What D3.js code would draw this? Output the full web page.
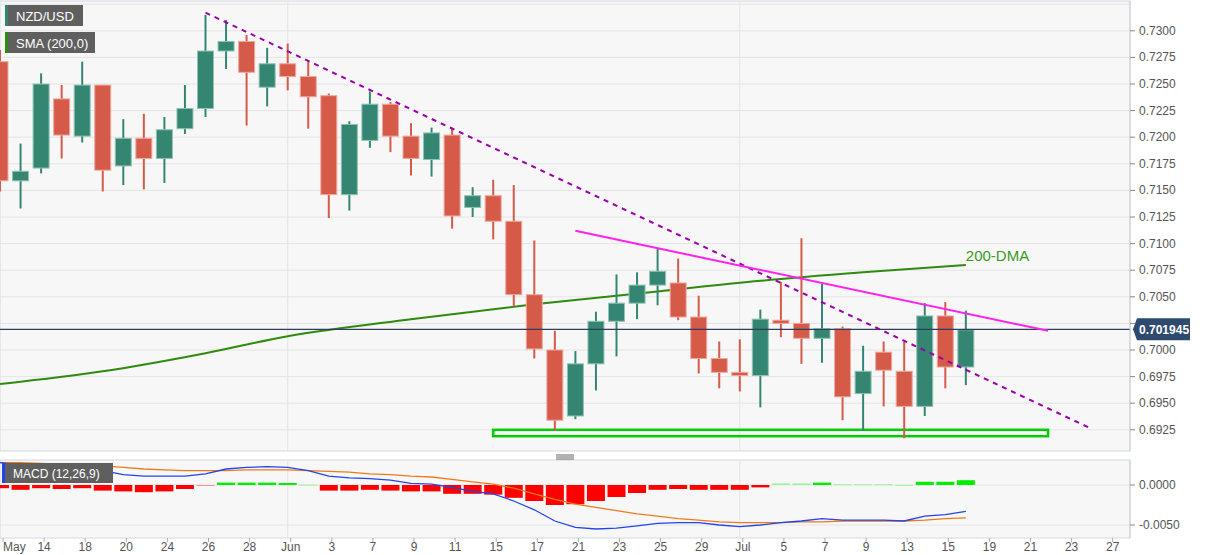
<!DOCTYPE html>
<html><head><meta charset="utf-8">
<script src="https://cdn.jsdelivr.net/npm/d3@7"></script>
<style>body{margin:0;background:#fff;font-family:"Liberation Sans",Arial,sans-serif}</style>
</head><body><svg id="c" width="1207" height="555"></svg>
<script>
const opens  =[0.7271,0.7159,0.7171,0.7236,0.7201,0.7249,0.7173,0.7199,0.7180,0.7208,0.7227,0.7281,0.7290,0.7247,0.7269,0.7257,0.7239,0.7146,0.7197,0.7231,0.7201,0.7179,0.7202,0.7134,0.7145,0.7121,0.7052,0.7000,0.6938,0.6987,0.7027,0.7044,0.7061,0.7063,0.7031,0.6992,0.6979,0.6976,0.7028,0.7025,0.7011,0.7020,0.6959,0.6998,0.6980,0.6947,0.7032,0.6984];
const highs  =[0.7282,0.7194,0.7260,0.7249,0.7271,0.7249,0.7217,0.7222,0.7219,0.7249,0.7315,0.7310,0.7296,0.7284,0.7288,0.7272,0.7241,0.7215,0.7243,0.7233,0.7213,0.7209,0.7209,0.7153,0.7160,0.7155,0.7103,0.7018,0.6999,0.7036,0.7071,0.7073,0.7095,0.7086,0.7051,0.7008,0.7010,0.7038,0.7064,0.7105,0.7062,0.7022,0.7004,0.7008,0.7008,0.7044,0.7045,0.7037];
const lows   =[0.7149,0.7133,0.7166,0.7180,0.7195,0.7149,0.7155,0.7151,0.7157,0.7203,0.7219,0.7264,0.7211,0.7229,0.7244,0.7208,0.7124,0.7131,0.7190,0.7186,0.7164,0.7163,0.7114,0.7125,0.7104,0.7041,0.6992,0.6924,0.6935,0.6962,0.6994,0.7029,0.7042,0.7028,0.6978,0.6964,0.6961,0.6946,0.7012,0.6987,0.6988,0.6934,0.6924,0.6947,0.6917,0.6938,0.6964,0.6967];
const closes =[0.7159,0.7168,0.7250,0.7202,0.7249,0.7169,0.7199,0.7180,0.7207,0.7227,0.7281,0.7290,0.7261,0.7269,0.7257,0.7238,0.7146,0.7212,0.7231,0.7201,0.7180,0.7204,0.7126,0.7145,0.7121,0.7052,0.7001,0.6934,0.6987,0.7027,0.7044,0.7061,0.7074,0.7031,0.6992,0.6979,0.6976,0.7029,0.7025,0.7011,0.7020,0.6956,0.6980,0.6981,0.6947,0.7032,0.6984,0.7019];
const smaIdx =[0,5,10,14,20,26,32,37,42,47];
const smaVal =[0.6968,0.6980,0.6997,0.7013,0.7029,0.7043,0.7055,0.7065,0.7073,0.7080];
const macdLine=[0.0028,0.0025,0.0024,0.0024,0.0023,0.0018,0.0013,0.0011,0.0011,0.0011,0.0014,0.0020,0.0022,0.0023,0.0022,0.0018,0.0011,0.0009,0.0008,0.0006,0.0002,0.0001,-0.0003,-0.0008,-0.0011,-0.0020,-0.0031,-0.0045,-0.0053,-0.0055,-0.0054,-0.0051,-0.0048,-0.0047,-0.0047,-0.0050,-0.0052,-0.0050,-0.0047,-0.0045,-0.0042,-0.0044,-0.0044,-0.0044,-0.0045,-0.0039,-0.0037,-0.0033];
const signalLine=[0.0028,0.0028,0.0027,0.0026,0.0025,0.0024,0.0022,0.0020,0.0019,0.0018,0.0018,0.0018,0.0019,0.0019,0.0019,0.0018,0.0017,0.0016,0.0014,0.0013,0.0011,0.0010,0.0007,0.0004,0.0001,-0.0004,-0.0011,-0.0018,-0.0024,-0.0028,-0.0032,-0.0036,-0.0039,-0.0042,-0.0044,-0.0046,-0.0047,-0.0047,-0.0047,-0.0046,-0.0046,-0.0045,-0.0045,-0.0045,-0.0045,-0.0044,-0.0042,-0.0041];
const hist=[-0.0004,-0.0006,-0.0004,-0.0005,-0.0004,-0.0007,-0.0008,-0.0009,-0.0008,-0.0005,-0.00005,0.0003,0.0003,0.0003,0.00025,0.00005,-0.0007,-0.0007,-0.0006,-0.0007,-0.0008,-0.0008,-0.0011,-0.0011,-0.0012,-0.0016,-0.0020,-0.0025,-0.0024,-0.0020,-0.0015,-0.0010,-0.0006,-0.0005,-0.0006,-0.0006,-0.0006,-0.0003,0.0002,0.0002,0.0003,0.0001,0.0001,0.0001,0.00002,0.0004,0.0004,0.0006];
const xLabels=["May","14","18","20","24","26","28","Jun","3","7","9","11","15","17","21","23","25","29","Jul","5","7","9","13","15","19","21","23","27"];
const yTicks=[0.6925,0.6950,0.6975,0.7000,0.7025,0.7050,0.7075,0.7100,0.7125,0.7150,0.7175,0.7200,0.7225,0.7250,0.7275,0.7300];
const macdTicks=[0,-0.005];
const lastPrice=0.701945;
const downTrend=[{i:10,v:0.7317},{i:53,v:0.6927}];
const resist=[{i:28,v:0.7112},{i:51,v:0.7018}];
const support={i0:24,i1:51,v0:0.6919,v1:0.6925};
const monthIdx=[14,36];

const svg=d3.select("#c");
const W=1130, pTop=1, pBot=451, mTop=460, mBot=538;
const x=d3.scaleLinear().domain([0,1]).range([0,20.55]);
const y=d3.scaleLinear().domain([0.7,0.73]).range([350,350-0.03*10640]);
const ym=d3.scaleLinear().domain([0,-0.005]).range([485,525]);
const grey="#555";
svg.append("rect").attr("x",0).attr("y",pTop).attr("width",W).attr("height",pBot-pTop).attr("fill","#f7f7f7").attr("stroke","#d3d8e3");
svg.append("rect").attr("x",0).attr("y",mTop).attr("width",W).attr("height",mBot-mTop).attr("fill","#f7f7f7").attr("stroke","#d3d8e3");
const defs=svg.append("defs");
defs.append("clipPath").attr("id","cm").append("rect").attr("x",0).attr("y",pTop).attr("width",W).attr("height",pBot-pTop);
defs.append("clipPath").attr("id","cd").append("rect").attr("x",0).attr("y",mTop).attr("width",W).attr("height",mBot-mTop);
const g=svg.append("g").attr("clip-path","url(#cm)");
const gm=svg.append("g").attr("clip-path","url(#cd)");
yTicks.concat([0.7325]).forEach(t=>g.append("line").attr("x1",0).attr("x2",W).attr("y1",y(t)).attr("y2",y(t)).attr("stroke","#e4e4e4"));
monthIdx.forEach(i=>{
 g.append("line").attr("x1",x(i)).attr("x2",x(i)).attr("y1",pTop).attr("y2",pBot).attr("stroke","#e4e4e4");
 gm.append("line").attr("x1",x(i)).attr("x2",x(i)).attr("y1",mTop).attr("y2",mBot).attr("stroke","#e4e4e4");
});
macdTicks.forEach(t=>gm.append("line").attr("x1",0).attr("x2",W).attr("y1",ym(t)).attr("y2",ym(t)).attr("stroke","#e4e4e4"));
g.append("rect").attr("x",x(support.i0)).attr("y",y(support.v1)).attr("width",x(support.i1)-x(support.i0)).attr("height",y(support.v0)-y(support.v1))
 .attr("fill","none").attr("stroke","#00cc00").attr("stroke-width",2.5);
g.append("path").datum(smaIdx.map((d,k)=>[d,smaVal[k]])).attr("fill","none").attr("stroke","#2e8b0e").attr("stroke-width",2)
 .attr("d",d3.line().x(d=>x(d[0])).y(d=>y(d[1])).curve(d3.curveMonotoneX));
opens.forEach((o,i)=>{
 const c=closes[i], up=c>=o, col=up?"#348672":"#d65a48", edge=up?"#8fc3b3":"#f0a9a0";
 g.append("line").attr("x1",x(i)).attr("x2",x(i)).attr("y1",y(highs[i])).attr("y2",y(lows[i])).attr("stroke",col).attr("stroke-width",2);
 const t=y(Math.max(o,c)), b=y(Math.min(o,c));
 g.append("rect").attr("x",x(i)-8).attr("y",t).attr("width",16).attr("height",Math.max(2,b-t)).attr("fill",col).attr("stroke",edge).attr("stroke-width",1);
});
g.append("line").attr("x1",0).attr("x2",W).attr("y1",y(lastPrice)).attr("y2",y(lastPrice)).attr("stroke","#2c3e5c").attr("stroke-width",1.2);
g.append("line").attr("x1",x(downTrend[0].i)).attr("y1",y(downTrend[0].v)).attr("x2",x(downTrend[1].i)).attr("y2",y(downTrend[1].v))
 .attr("stroke","#9a00a8").attr("stroke-width",2).attr("stroke-dasharray","5,5");
g.append("line").attr("x1",x(resist[0].i)).attr("y1",y(resist[0].v)).attr("x2",x(resist[1].i)).attr("y2",y(resist[1].v))
 .attr("stroke","#ff22ee").attr("stroke-width",2);
g.append("text").attr("x",x(47)).attr("y",y(0.7080)-4).attr("fill","#3c9a1a").attr("font-size",15).text("200-DMA");
svg.append("line").attr("x1",W).attr("x2",W).attr("y1",pTop).attr("y2",pBot).attr("stroke","#c9cfdb");
yTicks.forEach(t=>{
 svg.append("line").attr("x1",W).attr("x2",W+5).attr("y1",y(t)).attr("y2",y(t)).attr("stroke","#888");
 if(Math.abs(t-lastPrice)>0.001)
  svg.append("text").attr("x",W+9).attr("y",y(t)+4).attr("font-size",12).attr("fill",grey).text(t.toFixed(4));
});
const pb=svg.append("g").attr("transform",`translate(0,${y(lastPrice)})`);
pb.append("path").attr("d",`M${W+3},0 L${W+7},-11 L${W+60},-11 L${W+60},11 L${W+7},11 Z`).attr("fill","#2e4a6e");
pb.append("text").attr("x",W+9).attr("y",5).attr("font-size",12).attr("font-weight","bold").attr("fill","#fff").text(lastPrice.toFixed(6));
hist.forEach((h,i)=>{
 const light=Math.abs(h)<0.00022;
 const col=h>=0?(light?"#99f599":"#00ee00"):(light?"#ff9090":"#ff0000");
 gm.append("rect").attr("x",x(i)-9).attr("y",Math.min(ym(0),ym(h))).attr("width",18).attr("height",Math.max(1,Math.abs(ym(h)-ym(0)))).attr("fill",col);
});
const ml=d3.line().x((d,i)=>x(i)).y(d=>ym(d));
gm.append("path").datum(signalLine).attr("fill","none").attr("stroke","#f07a1a").attr("stroke-width",1.3).attr("d",ml);
gm.append("path").datum(macdLine).attr("fill","none").attr("stroke","#2244ee").attr("stroke-width",1.3).attr("d",ml);
svg.append("line").attr("x1",W).attr("x2",W).attr("y1",mTop).attr("y2",mBot).attr("stroke","#c9cfdb");
macdTicks.forEach(t=>{
 svg.append("line").attr("x1",W).attr("x2",W+5).attr("y1",ym(t)).attr("y2",ym(t)).attr("stroke","#888");
 svg.append("text").attr("x",W+9).attr("y",ym(t)+4).attr("font-size",12).attr("fill",grey).text(t===0?"0.0000":t.toFixed(4));
});
xLabels.forEach((l,k)=>{
 const xi=x(k*2)+3;
 svg.append("line").attr("x1",xi).attr("x2",xi).attr("y1",mBot).attr("y2",mBot+4).attr("stroke","#aaa");
 svg.append("text").attr("x",Math.max(xi,0)).attr("y",mBot+13).attr("font-size",12).attr("fill",grey)
  .attr("text-anchor",k===0?"start":"middle").text(l);
});
[455,457,459].forEach(yy=>svg.append("line").attr("x1",556).attr("x2",574).attr("y1",yy).attr("y2",yy).attr("stroke","#666"));
function box(xx,yy,w,h,stripe,txt,fs){
 svg.append("rect").attr("x",xx).attr("y",yy).attr("width",w).attr("height",h).attr("fill","#5f5f5f");
 svg.append("rect").attr("x",xx).attr("y",yy).attr("width",3).attr("height",h).attr("fill",stripe);
 svg.append("text").attr("x",xx+11).attr("y",yy+h/2+5).attr("font-size",fs).attr("fill","#fff").text(txt);
}
box(5,5,78,21,"#348672","NZD/USD",13);
box(5,32,90,21,"#2e8b0e","SMA (200,0)",13);
box(2,463,111,20,"#2244ee","MACD (12,26,9)",12);
</script></body></html>
